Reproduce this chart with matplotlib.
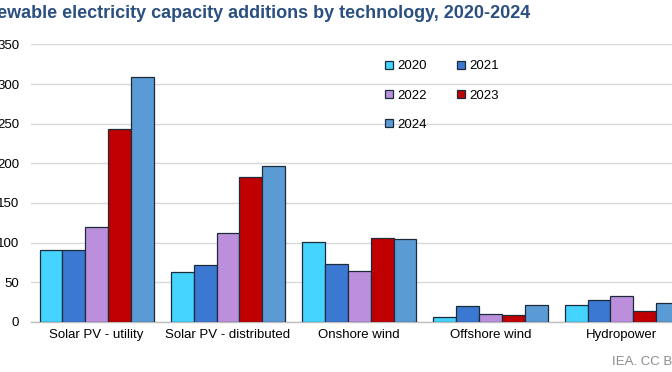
import numpy as np
import matplotlib.pyplot as plt

plt.rcParams['font.family'] = ['Liberation Sans', 'DejaVu Sans']

categories = ['Solar PV - utility', 'Solar PV - distributed', 'Onshore wind',
              'Offshore wind', 'Hydropower']
years = ['2020', '2021', '2022', '2023', '2024']
v2020 = [90, 63, 101, 6, 21]
v2021 = [91, 72, 73, 20, 27]
v2022 = [120, 112, 64, 10, 32]
v2023 = [243, 183, 106, 9, 13]
v2024 = [309, 196, 105, 21, 24]
yticks = [0, 50, 100, 150, 200, 250, 300, 350]

series = [v2020, v2021, v2022, v2023, v2024]
colors = ['#45d3ff', '#3b78d1', '#bb8fdc', '#c00000', '#5b9bd5']

fig = plt.figure(figsize=(6.72, 3.72), dpi=100)
ax = fig.add_axes([31/672, 0.1352, 656.5/672, 0.7452])

x = np.arange(len(categories))
w = 0.174
bars = []
for i, (vals, c) in enumerate(zip(series, colors)):
    b = ax.bar(x + (i - 2) * w, vals, w, color=c, edgecolor='#1c2b3a',
               linewidth=0.9, label=years[i], zorder=3)
    bars.append(b)

ax.set_xlim(-0.5, len(categories) - 0.5)
ax.set_ylim(0, 350)
ax.set_yticks(yticks)
ax.set_yticklabels([str(t) for t in yticks], fontsize=9.5)
ax.set_xticks(x)
ax.set_xticklabels(categories, fontsize=9.5)
ax.tick_params(axis='both', length=0)
ax.tick_params(axis='y', pad=8.5)
ax.tick_params(axis='x', pad=5)
ax.grid(axis='y', color='#d9d9d9', linewidth=1, zorder=0)
for s in ['left', 'right', 'top']:
    ax.spines[s].set_visible(False)
ax.spines['bottom'].set_color('#bfbfbf')
ax.spines['bottom'].set_linewidth(1)

order = [0, 2, 4, 1, 3]
leg = ax.legend([bars[k] for k in order], [years[k] for k in order], ncol=2,
                frameon=False, fontsize=9.5, handlelength=0.6, handleheight=0.6,
                handletextpad=0.35, columnspacing=2.3, labelspacing=1.3,
                loc='upper left', bbox_to_anchor=(342/656.5, 1 - 4/277))

fig.text(530/672, 0.965, 'Renewable electricity capacity additions by technology, 2020-2024',
         ha='right', va='center', fontsize=13, fontweight='bold', color='#2a4f80')
fig.text(612.5/672, 1 - 362/372, 'IEA. CC BY 4.0.', ha='left', va='center',
         fontsize=9.5, color='#8c8c8c')

fig.savefig('out.png', dpi=100)
